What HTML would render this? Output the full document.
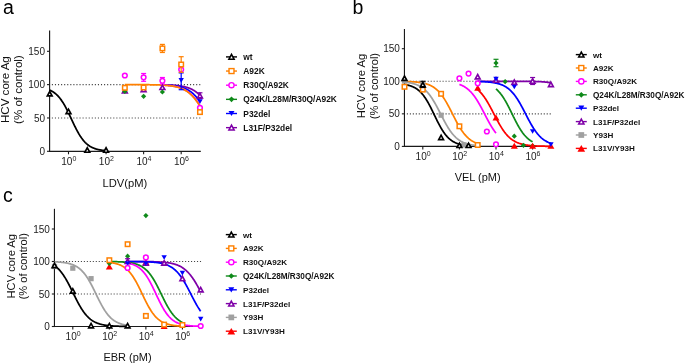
<!DOCTYPE html>
<html><head><meta charset="utf-8"><style>html,body{margin:0;padding:0;background:#fff;width:685px;height:364px;overflow:hidden} svg text{font-family:"Liberation Sans", sans-serif} svg{will-change:transform}</style></head>
<body><svg width="685" height="364" viewBox="0 0 685 364" style="display:block"><text x="3" y="14" font-size="19.5" fill="#000">a</text>
<text transform="translate(9.00,89.60) rotate(-90)" font-size="11.55" text-anchor="middle" fill="#111">HCV core Ag</text>
<text transform="translate(22.40,89.60) rotate(-90)" font-size="11.55" text-anchor="middle" fill="#111">(% of control)</text>
<line x1="51.85" y1="84.63" x2="200.40" y2="84.63" stroke="#444" stroke-width="1.15" stroke-dasharray="1.1 1.970"/>
<line x1="51.85" y1="117.97" x2="200.40" y2="117.97" stroke="#444" stroke-width="1.15" stroke-dasharray="1.1 1.970"/>
<line x1="49.60" y1="30.60" x2="49.60" y2="151.85" stroke="#1a1a1a" stroke-width="1.15"/>
<line x1="49.05" y1="151.30" x2="200.80" y2="151.30" stroke="#1a1a1a" stroke-width="1.15"/>
<line x1="47.00" y1="151.30" x2="49.60" y2="151.30" stroke="#1a1a1a" stroke-width="1.1"/>
<text x="45.00" y="154.90" font-size="10" text-anchor="end" fill="#222">0</text>
<line x1="47.00" y1="117.97" x2="49.60" y2="117.97" stroke="#1a1a1a" stroke-width="1.1"/>
<text x="45.00" y="121.56" font-size="10" text-anchor="end" fill="#222">50</text>
<line x1="47.00" y1="84.63" x2="49.60" y2="84.63" stroke="#1a1a1a" stroke-width="1.1"/>
<text x="45.00" y="88.23" font-size="10" text-anchor="end" fill="#222">100</text>
<line x1="47.00" y1="51.30" x2="49.60" y2="51.30" stroke="#1a1a1a" stroke-width="1.1"/>
<text x="45.00" y="54.90" font-size="10" text-anchor="end" fill="#222">150</text>
<line x1="68.50" y1="151.30" x2="68.50" y2="154.30" stroke="#1a1a1a" stroke-width="1.1"/>
<text x="61.30" y="164.90" font-size="10" fill="#222">10<tspan font-size="7" dy="-4">0</tspan></text>
<line x1="106.06" y1="151.30" x2="106.06" y2="154.30" stroke="#1a1a1a" stroke-width="1.1"/>
<text x="98.86" y="164.90" font-size="10" fill="#222">10<tspan font-size="7" dy="-4">2</tspan></text>
<line x1="143.62" y1="151.30" x2="143.62" y2="154.30" stroke="#1a1a1a" stroke-width="1.1"/>
<text x="136.42" y="164.90" font-size="10" fill="#222">10<tspan font-size="7" dy="-4">4</tspan></text>
<line x1="181.18" y1="151.30" x2="181.18" y2="154.30" stroke="#1a1a1a" stroke-width="1.1"/>
<text x="173.98" y="164.90" font-size="10" fill="#222">10<tspan font-size="7" dy="-4">6</tspan></text>
<text x="124.95" y="187.2" font-size="11.2" text-anchor="middle" fill="#111">LDV(pM)</text>
<polyline points="162.40,84.80 162.63,84.80 162.87,84.81 163.10,84.81 163.34,84.82 163.57,84.82 163.81,84.83 164.04,84.83 164.28,84.84 164.51,84.85 164.75,84.85 164.98,84.86 165.22,84.86 165.45,84.87 165.69,84.88 165.92,84.88 166.16,84.89 166.39,84.90 166.63,84.90 166.86,84.91 167.09,84.92 167.33,84.93 167.56,84.94 167.80,84.94 168.03,84.95 168.27,84.96 168.50,84.97 168.74,84.98 168.97,84.99 169.21,85.00 169.44,85.01 169.68,85.02 169.91,85.03 170.15,85.04 170.38,85.05 170.62,85.06 170.85,85.08 171.09,85.09 171.32,85.10 171.56,85.11 171.79,85.13 172.02,85.14 172.26,85.15 172.49,85.17 172.73,85.18 172.96,85.20 173.20,85.21 173.43,85.23 173.67,85.25 173.90,85.26 174.14,85.28 174.37,85.30 174.61,85.32 174.84,85.33 175.08,85.35 175.31,85.37 175.55,85.39 175.78,85.41 176.02,85.43 176.25,85.46 176.49,85.48 176.72,85.50 176.95,85.53 177.19,85.55 177.42,85.57 177.66,85.60 177.89,85.63 178.13,85.65 178.36,85.68 178.60,85.71 178.83,85.74 179.07,85.77 179.30,85.80 179.54,85.83 179.77,85.86 180.01,85.90 180.24,85.93 180.48,85.97 180.71,86.00 180.95,86.04 181.18,86.08 181.41,86.11 181.65,86.15 181.88,86.19 182.12,86.24 182.35,86.28 182.59,86.32 182.82,86.37 183.06,86.42 183.29,86.46 183.53,86.51 183.76,86.56 184.00,86.61 184.23,86.67 184.47,86.72 184.70,86.78 184.94,86.83 185.17,86.89 185.41,86.95 185.64,87.01 185.88,87.08 186.11,87.14 186.34,87.21 186.58,87.27 186.81,87.34 187.05,87.41 187.28,87.49 187.52,87.56 187.75,87.64 187.99,87.72 188.22,87.80 188.46,87.88 188.69,87.97 188.93,88.05 189.16,88.14 189.40,88.23 189.63,88.33 189.87,88.42 190.10,88.52 190.34,88.62 190.57,88.72 190.80,88.83 191.04,88.94 191.27,89.05 191.51,89.16 191.74,89.27 191.98,89.39 192.21,89.51 192.45,89.64 192.68,89.76 192.92,89.89 193.15,90.03 193.39,90.16 193.62,90.30 193.86,90.44 194.09,90.59 194.33,90.74 194.56,90.89 194.80,91.04 195.03,91.20 195.27,91.36 195.50,91.53 195.73,91.70 195.97,91.87 196.20,92.05 196.44,92.23 196.67,92.41 196.91,92.60 197.14,92.79 197.38,92.99 197.61,93.19 197.85,93.39 198.08,93.60 198.32,93.81 198.55,94.03 198.79,94.25 199.02,94.47 199.26,94.70 199.49,94.94 199.73,95.17 199.96,95.42" fill="none" stroke="#7f00a8" stroke-width="1.75" stroke-linejoin="round"/>
<polyline points="162.40,84.94 162.63,84.95 162.87,84.96 163.10,84.97 163.34,84.98 163.57,84.99 163.81,85.00 164.04,85.01 164.28,85.02 164.51,85.03 164.75,85.04 164.98,85.05 165.22,85.06 165.45,85.07 165.69,85.09 165.92,85.10 166.16,85.11 166.39,85.12 166.63,85.14 166.86,85.15 167.09,85.16 167.33,85.18 167.56,85.19 167.80,85.21 168.03,85.22 168.27,85.24 168.50,85.26 168.74,85.27 168.97,85.29 169.21,85.31 169.44,85.33 169.68,85.35 169.91,85.36 170.15,85.38 170.38,85.40 170.62,85.43 170.85,85.45 171.09,85.47 171.32,85.49 171.56,85.51 171.79,85.54 172.02,85.56 172.26,85.59 172.49,85.61 172.73,85.64 172.96,85.67 173.20,85.69 173.43,85.72 173.67,85.75 173.90,85.78 174.14,85.81 174.37,85.84 174.61,85.88 174.84,85.91 175.08,85.94 175.31,85.98 175.55,86.01 175.78,86.05 176.02,86.09 176.25,86.13 176.49,86.17 176.72,86.21 176.95,86.25 177.19,86.29 177.42,86.33 177.66,86.38 177.89,86.43 178.13,86.47 178.36,86.52 178.60,86.57 178.83,86.62 179.07,86.68 179.30,86.73 179.54,86.78 179.77,86.84 180.01,86.90 180.24,86.96 180.48,87.02 180.71,87.08 180.95,87.15 181.18,87.21 181.41,87.28 181.65,87.35 181.88,87.42 182.12,87.49 182.35,87.56 182.59,87.64 182.82,87.72 183.06,87.80 183.29,87.88 183.53,87.96 183.76,88.05 184.00,88.14 184.23,88.23 184.47,88.32 184.70,88.41 184.94,88.51 185.17,88.61 185.41,88.71 185.64,88.81 185.88,88.92 186.11,89.03 186.34,89.14 186.58,89.25 186.81,89.37 187.05,89.49 187.28,89.61 187.52,89.74 187.75,89.86 187.99,90.00 188.22,90.13 188.46,90.27 188.69,90.41 188.93,90.55 189.16,90.69 189.40,90.84 189.63,91.00 189.87,91.15 190.10,91.31 190.34,91.47 190.57,91.64 190.80,91.81 191.04,91.98 191.27,92.16 191.51,92.34 191.74,92.52 191.98,92.71 192.21,92.90 192.45,93.10 192.68,93.30 192.92,93.50 193.15,93.71 193.39,93.92 193.62,94.14 193.86,94.36 194.09,94.59 194.33,94.81 194.56,95.05 194.80,95.29 195.03,95.53 195.27,95.77 195.50,96.02 195.73,96.28 195.97,96.54 196.20,96.80 196.44,97.07 196.67,97.34 196.91,97.62 197.14,97.90 197.38,98.19 197.61,98.48 197.85,98.78 198.08,99.08 198.32,99.38 198.55,99.69 198.79,100.01 199.02,100.33 199.26,100.65 199.49,100.98 199.73,101.31 199.96,101.65" fill="none" stroke="#0000ff" stroke-width="1.75" stroke-linejoin="round"/>
<polyline points="162.40,85.09 162.63,85.10 162.87,85.12 163.10,85.13 163.34,85.14 163.57,85.16 163.81,85.17 164.04,85.18 164.28,85.20 164.51,85.21 164.75,85.23 164.98,85.24 165.22,85.26 165.45,85.28 165.69,85.29 165.92,85.31 166.16,85.33 166.39,85.35 166.63,85.37 166.86,85.39 167.09,85.41 167.33,85.43 167.56,85.45 167.80,85.47 168.03,85.49 168.27,85.51 168.50,85.54 168.74,85.56 168.97,85.58 169.21,85.61 169.44,85.63 169.68,85.66 169.91,85.69 170.15,85.72 170.38,85.74 170.62,85.77 170.85,85.80 171.09,85.83 171.32,85.86 171.56,85.90 171.79,85.93 172.02,85.96 172.26,86.00 172.49,86.03 172.73,86.07 172.96,86.11 173.20,86.15 173.43,86.18 173.67,86.22 173.90,86.27 174.14,86.31 174.37,86.35 174.61,86.40 174.84,86.44 175.08,86.49 175.31,86.54 175.55,86.59 175.78,86.64 176.02,86.69 176.25,86.74 176.49,86.79 176.72,86.85 176.95,86.91 177.19,86.97 177.42,87.03 177.66,87.09 177.89,87.15 178.13,87.21 178.36,87.28 178.60,87.35 178.83,87.42 179.07,87.49 179.30,87.56 179.54,87.63 179.77,87.71 180.01,87.79 180.24,87.87 180.48,87.95 180.71,88.03 180.95,88.12 181.18,88.21 181.41,88.29 181.65,88.39 181.88,88.48 182.12,88.58 182.35,88.68 182.59,88.78 182.82,88.88 183.06,88.98 183.29,89.09 183.53,89.20 183.76,89.32 184.00,89.43 184.23,89.55 184.47,89.67 184.70,89.79 184.94,89.92 185.17,90.05 185.41,90.18 185.64,90.31 185.88,90.45 186.11,90.59 186.34,90.74 186.58,90.88 186.81,91.03 187.05,91.19 187.28,91.34 187.52,91.50 187.75,91.67 187.99,91.83 188.22,92.00 188.46,92.18 188.69,92.35 188.93,92.53 189.16,92.72 189.40,92.91 189.63,93.10 189.87,93.29 190.10,93.49 190.34,93.70 190.57,93.90 190.80,94.11 191.04,94.33 191.27,94.55 191.51,94.77 191.74,95.00 191.98,95.23 192.21,95.47 192.45,95.70 192.68,95.95 192.92,96.20 193.15,96.45 193.39,96.71 193.62,96.97 193.86,97.23 194.09,97.50 194.33,97.78 194.56,98.06 194.80,98.34 195.03,98.63 195.27,98.92 195.50,99.21 195.73,99.52 195.97,99.82 196.20,100.13 196.44,100.44 196.67,100.76 196.91,101.08 197.14,101.41 197.38,101.74 197.61,102.08 197.85,102.42 198.08,102.76 198.32,103.11 198.55,103.46 198.79,103.82 199.02,104.18 199.26,104.54 199.49,104.91 199.73,105.28 199.96,105.65" fill="none" stroke="#ff00ff" stroke-width="1.75" stroke-linejoin="round"/>
<polyline points="124.84,84.64 125.31,84.64 125.78,84.64 126.25,84.64 126.72,84.64 127.19,84.64 127.66,84.64 128.13,84.64 128.60,84.64 129.07,84.64 129.53,84.64 130.00,84.64 130.47,84.64 130.94,84.64 131.41,84.65 131.88,84.65 132.35,84.65 132.82,84.65 133.29,84.65 133.76,84.65 134.23,84.65 134.70,84.65 135.17,84.65 135.64,84.65 136.11,84.66 136.58,84.66 137.05,84.66 137.52,84.66 137.99,84.66 138.46,84.66 138.93,84.67 139.39,84.67 139.86,84.67 140.33,84.67 140.80,84.67 141.27,84.68 141.74,84.68 142.21,84.68 142.68,84.68 143.15,84.69 143.62,84.69 144.09,84.69 144.56,84.70 145.03,84.70 145.50,84.70 145.97,84.71 146.44,84.71 146.91,84.72 147.38,84.72 147.85,84.73 148.31,84.73 148.78,84.74 149.25,84.74 149.72,84.75 150.19,84.75 150.66,84.76 151.13,84.77 151.60,84.77 152.07,84.78 152.54,84.79 153.01,84.80 153.48,84.81 153.95,84.82 154.42,84.83 154.89,84.84 155.36,84.85 155.83,84.86 156.30,84.87 156.77,84.89 157.24,84.90 157.71,84.92 158.17,84.93 158.64,84.95 159.11,84.96 159.58,84.98 160.05,85.00 160.52,85.02 160.99,85.04 161.46,85.06 161.93,85.09 162.40,85.11 162.87,85.14 163.34,85.16 163.81,85.19 164.28,85.22 164.75,85.25 165.22,85.29 165.69,85.32 166.16,85.36 166.63,85.40 167.09,85.44 167.56,85.48 168.03,85.53 168.50,85.57 168.97,85.62 169.44,85.68 169.91,85.73 170.38,85.79 170.85,85.85 171.32,85.92 171.79,85.98 172.26,86.05 172.73,86.13 173.20,86.21 173.67,86.29 174.14,86.38 174.61,86.47 175.08,86.57 175.55,86.67 176.02,86.77 176.49,86.88 176.95,87.00 177.42,87.12 177.89,87.25 178.36,87.39 178.83,87.53 179.30,87.68 179.77,87.83 180.24,88.00 180.71,88.17 181.18,88.35 181.65,88.54 182.12,88.74 182.59,88.94 183.06,89.16 183.53,89.38 184.00,89.62 184.47,89.87 184.94,90.13 185.41,90.40 185.88,90.68 186.34,90.97 186.81,91.28 187.28,91.60 187.75,91.93 188.22,92.28 188.69,92.64 189.16,93.02 189.63,93.41 190.10,93.82 190.57,94.24 191.04,94.68 191.51,95.14 191.98,95.61 192.45,96.10 192.92,96.60 193.39,97.13 193.86,97.67 194.33,98.23 194.80,98.80 195.27,99.39 195.73,100.01 196.20,100.63 196.67,101.28 197.14,101.94 197.61,102.62 198.08,103.32 198.55,104.03 199.02,104.76 199.49,105.50 199.96,106.26" fill="none" stroke="#ff8000" stroke-width="1.75" stroke-linejoin="round"/>
<polyline points="49.72,90.16 50.07,90.31 50.42,90.47 50.78,90.64 51.13,90.82 51.48,91.00 51.83,91.19 52.18,91.38 52.54,91.59 52.89,91.80 53.24,92.03 53.59,92.26 53.95,92.50 54.30,92.75 54.65,93.01 55.00,93.28 55.35,93.56 55.71,93.85 56.06,94.15 56.41,94.46 56.76,94.79 57.11,95.12 57.47,95.47 57.82,95.83 58.17,96.20 58.52,96.58 58.88,96.98 59.23,97.39 59.58,97.81 59.93,98.25 60.28,98.70 60.64,99.16 60.99,99.64 61.34,100.13 61.69,100.64 62.04,101.15 62.40,101.69 62.75,102.23 63.10,102.79 63.45,103.36 63.80,103.95 64.16,104.55 64.51,105.16 64.86,105.78 65.21,106.41 65.57,107.06 65.92,107.72 66.27,108.39 66.62,109.07 66.97,109.76 67.33,110.46 67.68,111.17 68.03,111.88 68.38,112.61 68.73,113.34 69.09,114.07 69.44,114.82 69.79,115.56 70.14,116.31 70.50,117.07 70.85,117.82 71.20,118.58 71.55,119.33 71.90,120.09 72.26,120.85 72.61,121.60 72.96,122.35 73.31,123.10 73.66,123.84 74.02,124.58 74.37,125.31 74.72,126.04 75.07,126.75 75.43,127.46 75.78,128.16 76.13,128.86 76.48,129.54 76.83,130.21 77.19,130.87 77.54,131.52 77.89,132.16 78.24,132.78 78.59,133.40 78.95,134.00 79.30,134.59 79.65,135.16 80.00,135.72 80.35,136.27 80.71,136.80 81.06,137.32 81.41,137.83 81.76,138.32 82.12,138.80 82.47,139.27 82.82,139.72 83.17,140.16 83.52,140.59 83.88,141.00 84.23,141.40 84.58,141.79 84.93,142.16 85.28,142.52 85.64,142.87 85.99,143.21 86.34,143.54 86.69,143.85 87.05,144.16 87.40,144.45 87.75,144.73 88.10,145.00 88.45,145.26 88.81,145.52 89.16,145.76 89.51,145.99 89.86,146.22 90.21,146.43 90.57,146.64 90.92,146.84 91.27,147.03 91.62,147.21 91.97,147.39 92.33,147.56 92.68,147.72 93.03,147.87 93.38,148.02 93.74,148.17 94.09,148.30 94.44,148.43 94.79,148.56 95.14,148.68 95.50,148.80 95.85,148.91 96.20,149.01 96.55,149.11 96.90,149.21 97.26,149.30 97.61,149.39 97.96,149.48 98.31,149.56 98.67,149.64 99.02,149.71 99.37,149.78 99.72,149.85 100.07,149.92 100.43,149.98 100.78,150.04 101.13,150.09 101.48,150.15 101.83,150.20 102.19,150.25 102.54,150.30 102.89,150.34 103.24,150.39 103.60,150.43 103.95,150.47 104.30,150.50 104.65,150.54 105.00,150.57 105.36,150.61 105.71,150.64 106.06,150.67" fill="none" stroke="#000000" stroke-width="1.75" stroke-linejoin="round"/>
<circle cx="124.84" cy="75.50" r="2.35" fill="#fff" stroke="#ff00ff" stroke-width="1.5"/>
<line x1="143.62" y1="73.50" x2="143.62" y2="81.30" stroke="#ff00ff" stroke-width="1.2"/>
<line x1="141.12" y1="73.50" x2="146.12" y2="73.50" stroke="#ff00ff" stroke-width="1.2"/>
<line x1="141.12" y1="81.30" x2="146.12" y2="81.30" stroke="#ff00ff" stroke-width="1.2"/>
<circle cx="143.62" cy="77.30" r="2.35" fill="#fff" stroke="#ff00ff" stroke-width="1.5"/>
<line x1="162.40" y1="77.50" x2="162.40" y2="84.00" stroke="#ff00ff" stroke-width="1.2"/>
<line x1="159.90" y1="77.50" x2="164.90" y2="77.50" stroke="#ff00ff" stroke-width="1.2"/>
<line x1="159.90" y1="84.00" x2="164.90" y2="84.00" stroke="#ff00ff" stroke-width="1.2"/>
<circle cx="162.40" cy="80.80" r="2.35" fill="#fff" stroke="#ff00ff" stroke-width="1.5"/>
<circle cx="181.18" cy="69.60" r="2.35" fill="#fff" stroke="#ff00ff" stroke-width="1.5"/>
<circle cx="199.96" cy="107.80" r="2.35" fill="#fff" stroke="#ff00ff" stroke-width="1.5"/>
<path d="M47.32,95.90 L49.72,91.50 L52.12,95.90Z" fill="#fff" stroke="#000000" stroke-width="1.6500000000000001" stroke-linejoin="miter"/>
<path d="M66.10,113.60 L68.50,109.20 L70.90,113.60Z" fill="#fff" stroke="#000000" stroke-width="1.6500000000000001" stroke-linejoin="miter"/>
<path d="M84.88,152.20 L87.28,147.80 L89.68,152.20Z" fill="#fff" stroke="#000000" stroke-width="1.6500000000000001" stroke-linejoin="miter"/>
<path d="M103.66,152.20 L106.06,147.80 L108.46,152.20Z" fill="#fff" stroke="#000000" stroke-width="1.6500000000000001" stroke-linejoin="miter"/>
<path d="M122.44,92.90 L124.84,88.50 L127.24,92.90Z" fill="#fff" stroke="#7f00a8" stroke-width="1.6500000000000001" stroke-linejoin="miter"/>
<path d="M141.22,91.70 L143.62,87.30 L146.02,91.70Z" fill="#fff" stroke="#7f00a8" stroke-width="1.6500000000000001" stroke-linejoin="miter"/>
<path d="M160.00,89.50 L162.40,85.10 L164.80,89.50Z" fill="#fff" stroke="#7f00a8" stroke-width="1.6500000000000001" stroke-linejoin="miter"/>
<line x1="199.96" y1="92.80" x2="199.96" y2="98.50" stroke="#7f00a8" stroke-width="1.2"/>
<line x1="197.46" y1="92.80" x2="202.46" y2="92.80" stroke="#7f00a8" stroke-width="1.2"/>
<line x1="197.46" y1="98.50" x2="202.46" y2="98.50" stroke="#7f00a8" stroke-width="1.2"/>
<path d="M197.56,97.80 L199.96,93.40 L202.36,97.80Z" fill="#fff" stroke="#7f00a8" stroke-width="1.6500000000000001" stroke-linejoin="miter"/>
<path d="M124.84,88.90 L127.44,91.50 L124.84,94.10 L122.24,91.50Z" fill="#0f8a1a"/>
<path d="M143.62,93.70 L146.22,96.30 L143.62,98.90 L141.02,96.30Z" fill="#0f8a1a"/>
<path d="M162.40,89.40 L165.00,92.00 L162.40,94.60 L159.80,92.00Z" fill="#0f8a1a"/>
<line x1="181.18" y1="72.90" x2="181.18" y2="89.70" stroke="#0000ff" stroke-width="1.2"/>
<line x1="178.68" y1="72.90" x2="183.68" y2="72.90" stroke="#0000ff" stroke-width="1.2"/>
<line x1="178.68" y1="89.70" x2="183.68" y2="89.70" stroke="#0000ff" stroke-width="1.2"/>
<path d="M178.48,78.05 L183.88,78.05 L181.18,82.75Z" fill="#0000ff"/>
<path d="M197.26,99.25 L202.66,99.25 L199.96,103.95Z" fill="#0000ff"/>
<rect x="122.59" y="85.55" width="4.50" height="4.50" fill="#fff" stroke="#ff8000" stroke-width="1.5"/>
<rect x="141.37" y="85.25" width="4.50" height="4.50" fill="#fff" stroke="#ff8000" stroke-width="1.5"/>
<line x1="162.40" y1="44.40" x2="162.40" y2="52.50" stroke="#ff8000" stroke-width="1.2"/>
<line x1="159.90" y1="44.40" x2="164.90" y2="44.40" stroke="#ff8000" stroke-width="1.2"/>
<line x1="159.90" y1="52.50" x2="164.90" y2="52.50" stroke="#ff8000" stroke-width="1.2"/>
<rect x="160.15" y="46.15" width="4.50" height="4.50" fill="#fff" stroke="#ff8000" stroke-width="1.5"/>
<line x1="181.18" y1="56.70" x2="181.18" y2="72.30" stroke="#ff8000" stroke-width="1.2"/>
<line x1="178.68" y1="56.70" x2="183.68" y2="56.70" stroke="#ff8000" stroke-width="1.2"/>
<line x1="178.68" y1="72.30" x2="183.68" y2="72.30" stroke="#ff8000" stroke-width="1.2"/>
<rect x="178.93" y="62.25" width="4.50" height="4.50" fill="#fff" stroke="#ff8000" stroke-width="1.5"/>
<rect x="197.71" y="109.85" width="4.50" height="4.50" fill="#fff" stroke="#ff8000" stroke-width="1.5"/>
<line x1="226.00" y1="56.90" x2="237.00" y2="56.90" stroke="#000000" stroke-width="1.4"/>
<path d="M228.86,59.32 L231.50,54.48 L234.14,59.32Z" fill="#fff" stroke="#000000" stroke-width="1.54" stroke-linejoin="miter"/>
<text x="243.30" y="59.90" font-size="8.4" font-weight="bold" fill="#111">wt</text>
<line x1="226.00" y1="71.05" x2="237.00" y2="71.05" stroke="#ff8000" stroke-width="1.4"/>
<rect x="229.03" y="68.58" width="4.95" height="4.95" fill="#fff" stroke="#ff8000" stroke-width="1.4"/>
<text x="243.30" y="74.05" font-size="8.4" font-weight="bold" fill="#111">A92K</text>
<line x1="226.00" y1="85.20" x2="237.00" y2="85.20" stroke="#ff00ff" stroke-width="1.4"/>
<circle cx="231.50" cy="85.20" r="2.59" fill="#fff" stroke="#ff00ff" stroke-width="1.4"/>
<text x="243.30" y="88.20" font-size="8.4" font-weight="bold" fill="#111">R30Q/A92K</text>
<line x1="226.00" y1="99.35" x2="237.00" y2="99.35" stroke="#0f8a1a" stroke-width="1.4"/>
<path d="M231.50,96.49 L234.36,99.35 L231.50,102.21 L228.64,99.35Z" fill="#0f8a1a"/>
<text x="243.30" y="102.35" font-size="8.4" font-weight="bold" fill="#111">Q24K/L28M/R30Q/A92K</text>
<line x1="226.00" y1="113.50" x2="237.00" y2="113.50" stroke="#0000ff" stroke-width="1.4"/>
<path d="M228.53,110.92 L234.47,110.92 L231.50,116.08Z" fill="#0000ff"/>
<text x="243.30" y="116.50" font-size="8.4" font-weight="bold" fill="#111">P32del</text>
<line x1="226.00" y1="127.65" x2="237.00" y2="127.65" stroke="#7f00a8" stroke-width="1.4"/>
<path d="M228.86,130.07 L231.50,125.23 L234.14,130.07Z" fill="#fff" stroke="#7f00a8" stroke-width="1.54" stroke-linejoin="miter"/>
<text x="243.30" y="130.65" font-size="8.4" font-weight="bold" fill="#111">L31F/P32del</text>
<text x="352.6" y="13.5" font-size="19.5" fill="#000">b</text>
<text transform="translate(364.90,86.05) rotate(-90)" font-size="11.15" text-anchor="middle" fill="#111">HCV core Ag</text>
<text transform="translate(377.50,86.05) rotate(-90)" font-size="11.15" text-anchor="middle" fill="#111">(% of control)</text>
<line x1="406.85" y1="81.27" x2="551.50" y2="81.27" stroke="#444" stroke-width="1.15" stroke-dasharray="1.1 1.875"/>
<line x1="406.85" y1="113.84" x2="551.50" y2="113.84" stroke="#444" stroke-width="1.15" stroke-dasharray="1.1 1.875"/>
<line x1="404.45" y1="29.00" x2="404.45" y2="146.95" stroke="#1a1a1a" stroke-width="1.15"/>
<line x1="403.90" y1="146.40" x2="551.50" y2="146.40" stroke="#1a1a1a" stroke-width="1.15"/>
<line x1="401.85" y1="146.40" x2="404.45" y2="146.40" stroke="#1a1a1a" stroke-width="1.1"/>
<text x="399.85" y="150.00" font-size="10" text-anchor="end" fill="#222">0</text>
<line x1="401.85" y1="113.84" x2="404.45" y2="113.84" stroke="#1a1a1a" stroke-width="1.1"/>
<text x="399.85" y="117.44" font-size="10" text-anchor="end" fill="#222">50</text>
<line x1="401.85" y1="81.27" x2="404.45" y2="81.27" stroke="#1a1a1a" stroke-width="1.1"/>
<text x="399.85" y="84.87" font-size="10" text-anchor="end" fill="#222">100</text>
<line x1="401.85" y1="48.71" x2="404.45" y2="48.71" stroke="#1a1a1a" stroke-width="1.1"/>
<text x="399.85" y="52.31" font-size="10" text-anchor="end" fill="#222">150</text>
<line x1="422.80" y1="146.40" x2="422.80" y2="149.40" stroke="#1a1a1a" stroke-width="1.1"/>
<text x="415.60" y="160.00" font-size="10" fill="#222">10<tspan font-size="7" dy="-4">0</tspan></text>
<line x1="459.40" y1="146.40" x2="459.40" y2="149.40" stroke="#1a1a1a" stroke-width="1.1"/>
<text x="452.20" y="160.00" font-size="10" fill="#222">10<tspan font-size="7" dy="-4">2</tspan></text>
<line x1="496.00" y1="146.40" x2="496.00" y2="149.40" stroke="#1a1a1a" stroke-width="1.1"/>
<text x="488.80" y="160.00" font-size="10" fill="#222">10<tspan font-size="7" dy="-4">4</tspan></text>
<line x1="532.60" y1="146.40" x2="532.60" y2="149.40" stroke="#1a1a1a" stroke-width="1.1"/>
<text x="525.40" y="160.00" font-size="10" fill="#222">10<tspan font-size="7" dy="-4">6</tspan></text>
<text x="477.65" y="181.1" font-size="11" text-anchor="middle" fill="#111">VEL (pM)</text>
<polyline points="477.70,81.27 478.16,81.27 478.62,81.27 479.07,81.27 479.53,81.27 479.99,81.27 480.44,81.27 480.90,81.27 481.36,81.27 481.82,81.27 482.28,81.27 482.73,81.27 483.19,81.27 483.65,81.27 484.11,81.27 484.56,81.27 485.02,81.27 485.48,81.27 485.94,81.27 486.39,81.27 486.85,81.27 487.31,81.27 487.76,81.27 488.22,81.27 488.68,81.27 489.14,81.27 489.60,81.27 490.05,81.27 490.51,81.27 490.97,81.27 491.43,81.27 491.88,81.27 492.34,81.27 492.80,81.27 493.25,81.27 493.71,81.27 494.17,81.27 494.63,81.27 495.09,81.27 495.54,81.27 496.00,81.27 496.46,81.27 496.92,81.27 497.37,81.27 497.83,81.27 498.29,81.27 498.75,81.27 499.20,81.27 499.66,81.27 500.12,81.27 500.58,81.27 501.03,81.27 501.49,81.27 501.95,81.27 502.40,81.27 502.86,81.27 503.32,81.27 503.78,81.27 504.24,81.27 504.69,81.27 505.15,81.28 505.61,81.28 506.06,81.28 506.52,81.28 506.98,81.28 507.44,81.28 507.90,81.28 508.35,81.28 508.81,81.28 509.27,81.28 509.73,81.28 510.18,81.28 510.64,81.28 511.10,81.28 511.56,81.28 512.01,81.28 512.47,81.28 512.93,81.28 513.38,81.28 513.84,81.29 514.30,81.29 514.76,81.29 515.22,81.29 515.67,81.29 516.13,81.29 516.59,81.29 517.05,81.29 517.50,81.29 517.96,81.30 518.42,81.30 518.88,81.30 519.33,81.30 519.79,81.30 520.25,81.30 520.71,81.31 521.16,81.31 521.62,81.31 522.08,81.31 522.54,81.32 522.99,81.32 523.45,81.32 523.91,81.32 524.37,81.33 524.82,81.33 525.28,81.34 525.74,81.34 526.20,81.34 526.65,81.35 527.11,81.35 527.57,81.36 528.02,81.36 528.48,81.37 528.94,81.37 529.40,81.38 529.86,81.39 530.31,81.39 530.77,81.40 531.23,81.41 531.69,81.42 532.14,81.42 532.60,81.43 533.06,81.44 533.51,81.45 533.97,81.46 534.43,81.48 534.89,81.49 535.35,81.50 535.80,81.51 536.26,81.53 536.72,81.54 537.17,81.56 537.63,81.58 538.09,81.59 538.55,81.61 539.00,81.63 539.46,81.66 539.92,81.68 540.38,81.70 540.84,81.73 541.29,81.75 541.75,81.78 542.21,81.81 542.66,81.85 543.12,81.88 543.58,81.91 544.04,81.95 544.50,81.99 544.95,82.03 545.41,82.08 545.87,82.13 546.33,82.18 546.78,82.23 547.24,82.29 547.70,82.35 548.15,82.41 548.61,82.47 549.07,82.54 549.53,82.62 549.99,82.70 550.44,82.78 550.90,82.87" fill="none" stroke="#7f00a8" stroke-width="1.75" stroke-linejoin="round"/>
<polyline points="477.70,81.48 478.16,81.49 478.62,81.51 479.07,81.52 479.53,81.53 479.99,81.55 480.44,81.57 480.90,81.58 481.36,81.60 481.82,81.62 482.28,81.64 482.73,81.66 483.19,81.68 483.65,81.70 484.11,81.73 484.56,81.75 485.02,81.78 485.48,81.81 485.94,81.84 486.39,81.87 486.85,81.90 487.31,81.94 487.76,81.97 488.22,82.01 488.68,82.05 489.14,82.10 489.60,82.14 490.05,82.19 490.51,82.24 490.97,82.30 491.43,82.35 491.88,82.41 492.34,82.48 492.80,82.54 493.25,82.61 493.71,82.69 494.17,82.76 494.63,82.85 495.09,82.93 495.54,83.02 496.00,83.12 496.46,83.22 496.92,83.33 497.37,83.44 497.83,83.56 498.29,83.68 498.75,83.81 499.20,83.95 499.66,84.09 500.12,84.24 500.58,84.40 501.03,84.57 501.49,84.74 501.95,84.93 502.40,85.12 502.86,85.32 503.32,85.54 503.78,85.76 504.24,85.99 504.69,86.24 505.15,86.50 505.61,86.77 506.06,87.05 506.52,87.34 506.98,87.65 507.44,87.97 507.90,88.31 508.35,88.66 508.81,89.02 509.27,89.40 509.73,89.80 510.18,90.22 510.64,90.65 511.10,91.09 511.56,91.56 512.01,92.04 512.47,92.54 512.93,93.06 513.38,93.60 513.84,94.15 514.30,94.73 514.76,95.32 515.22,95.93 515.67,96.56 516.13,97.21 516.59,97.88 517.05,98.57 517.50,99.27 517.96,99.99 518.42,100.73 518.88,101.48 519.33,102.25 519.79,103.04 520.25,103.84 520.71,104.65 521.16,105.48 521.62,106.32 522.08,107.16 522.54,108.02 522.99,108.89 523.45,109.76 523.91,110.64 524.37,111.52 524.82,112.41 525.28,113.30 525.74,114.19 526.20,115.08 526.65,115.97 527.11,116.85 527.57,117.73 528.02,118.61 528.48,119.48 528.94,120.34 529.40,121.19 529.86,122.03 530.31,122.85 530.77,123.67 531.23,124.47 531.69,125.26 532.14,126.03 532.60,126.79 533.06,127.53 533.51,128.26 533.97,128.96 534.43,129.65 534.89,130.32 535.35,130.98 535.80,131.61 536.26,132.23 536.72,132.82 537.17,133.40 537.63,133.96 538.09,134.50 538.55,135.03 539.00,135.53 539.46,136.02 539.92,136.48 540.38,136.94 540.84,137.37 541.29,137.79 541.75,138.19 542.21,138.57 542.66,138.94 543.12,139.29 543.58,139.63 544.04,139.96 544.50,140.27 544.95,140.57 545.41,140.85 545.87,141.12 546.33,141.38 546.78,141.63 547.24,141.86 547.70,142.09 548.15,142.30 548.61,142.51 549.07,142.70 549.53,142.89 549.99,143.07 550.44,143.24 550.90,143.40" fill="none" stroke="#0000ff" stroke-width="1.75" stroke-linejoin="round"/>
<polyline points="496.00,88.89 496.23,89.08 496.46,89.28 496.69,89.49 496.92,89.70 497.14,89.91 497.37,90.13 497.60,90.35 497.83,90.58 498.06,90.81 498.29,91.05 498.52,91.29 498.75,91.53 498.97,91.79 499.20,92.04 499.43,92.30 499.66,92.57 499.89,92.84 500.12,93.12 500.35,93.40 500.58,93.68 500.80,93.98 501.03,94.27 501.26,94.58 501.49,94.88 501.72,95.20 501.95,95.51 502.18,95.84 502.40,96.16 502.63,96.50 502.86,96.84 503.09,97.18 503.32,97.53 503.55,97.88 503.78,98.24 504.01,98.60 504.24,98.97 504.46,99.35 504.69,99.72 504.92,100.11 505.15,100.49 505.38,100.89 505.61,101.28 505.84,101.69 506.06,102.09 506.29,102.50 506.52,102.91 506.75,103.33 506.98,103.75 507.21,104.18 507.44,104.61 507.67,105.04 507.90,105.48 508.12,105.92 508.35,106.36 508.58,106.81 508.81,107.25 509.04,107.70 509.27,108.16 509.50,108.61 509.73,109.07 509.95,109.53 510.18,109.99 510.41,110.45 510.64,110.92 510.87,111.38 511.10,111.85 511.33,112.32 511.56,112.79 511.78,113.25 512.01,113.72 512.24,114.19 512.47,114.66 512.70,115.13 512.93,115.60 513.16,116.06 513.38,116.53 513.61,116.99 513.84,117.46 514.07,117.92 514.30,118.38 514.53,118.84 514.76,119.29 514.99,119.75 515.22,120.20 515.44,120.65 515.67,121.10 515.90,121.54 516.13,121.98 516.36,122.42 516.59,122.85 516.82,123.28 517.05,123.71 517.27,124.14 517.50,124.56 517.73,124.97 517.96,125.38 518.19,125.79 518.42,126.19 518.65,126.59 518.88,126.99 519.10,127.38 519.33,127.76 519.56,128.14 519.79,128.52 520.02,128.89 520.25,129.26 520.48,129.62 520.71,129.97 520.93,130.32 521.16,130.67 521.39,131.01 521.62,131.35 521.85,131.68 522.08,132.00 522.31,132.32 522.54,132.64 522.76,132.95 522.99,133.25 523.22,133.55 523.45,133.85 523.68,134.13 523.91,134.42 524.14,134.70 524.37,134.97 524.59,135.24 524.82,135.50 525.05,135.76 525.28,136.02 525.51,136.27 525.74,136.51 525.97,136.75 526.20,136.98 526.42,137.21 526.65,137.44 526.88,137.66 527.11,137.87 527.34,138.08 527.57,138.29 527.80,138.49 528.02,138.69 528.25,138.88 528.48,139.07 528.71,139.26 528.94,139.44 529.17,139.62 529.40,139.79 529.63,139.96 529.86,140.12 530.08,140.28 530.31,140.44 530.54,140.60 530.77,140.75 531.00,140.89 531.23,141.04 531.46,141.18 531.69,141.31 531.91,141.45 532.14,141.58 532.37,141.70 532.60,141.83" fill="none" stroke="#0f8a1a" stroke-width="1.75" stroke-linejoin="round"/>
<polyline points="477.70,89.62 478.16,90.02 478.62,90.44 479.07,90.88 479.53,91.33 479.99,91.80 480.44,92.29 480.90,92.79 481.36,93.32 481.82,93.86 482.28,94.42 482.73,95.00 483.19,95.60 483.65,96.21 484.11,96.85 484.56,97.50 485.02,98.17 485.48,98.86 485.94,99.56 486.39,100.29 486.85,101.02 487.31,101.78 487.76,102.55 488.22,103.33 488.68,104.13 489.14,104.94 489.60,105.77 490.05,106.60 490.51,107.45 490.97,108.30 491.43,109.17 491.88,110.03 492.34,110.91 492.80,111.79 493.25,112.67 493.71,113.55 494.17,114.44 494.63,115.32 495.09,116.20 495.54,117.08 496.00,117.95 496.46,118.82 496.92,119.68 497.37,120.53 497.83,121.37 498.29,122.20 498.75,123.02 499.20,123.83 499.66,124.62 500.12,125.40 500.58,126.16 501.03,126.91 501.49,127.65 501.95,128.36 502.40,129.06 502.86,129.74 503.32,130.41 503.78,131.05 504.24,131.68 504.69,132.29 505.15,132.88 505.61,133.45 506.06,134.01 506.52,134.54 506.98,135.06 507.44,135.56 507.90,136.04 508.35,136.51 508.81,136.95 509.27,137.38 509.73,137.80 510.18,138.19 510.64,138.58 511.10,138.94 511.56,139.29 512.01,139.63 512.47,139.95 512.93,140.26 513.38,140.56 513.84,140.84 514.30,141.11 514.76,141.37 515.22,141.61 515.67,141.85 516.13,142.07 516.59,142.29 517.05,142.49 517.50,142.69 517.96,142.87 518.42,143.05 518.88,143.22 519.33,143.38 519.79,143.53 520.25,143.67 520.71,143.81 521.16,143.94 521.62,144.07 522.08,144.19 522.54,144.30 522.99,144.41 523.45,144.51 523.91,144.61 524.37,144.70 524.82,144.79 525.28,144.87 525.74,144.95 526.20,145.03 526.65,145.10 527.11,145.16 527.57,145.23 528.02,145.29 528.48,145.35 528.94,145.40 529.40,145.45 529.86,145.50 530.31,145.55 530.77,145.59 531.23,145.64 531.69,145.68 532.14,145.71 532.60,145.75 533.06,145.78 533.51,145.82 533.97,145.85 534.43,145.88 534.89,145.90 535.35,145.93 535.80,145.95 536.26,145.98 536.72,146.00 537.17,146.02 537.63,146.04 538.09,146.06 538.55,146.08 539.00,146.09 539.46,146.11 539.92,146.13 540.38,146.14 540.84,146.15 541.29,146.17 541.75,146.18 542.21,146.19 542.66,146.20 543.12,146.21 543.58,146.22 544.04,146.23 544.50,146.24 544.95,146.25 545.41,146.26 545.87,146.26 546.33,146.27 546.78,146.28 547.24,146.28 547.70,146.29 548.15,146.30 548.61,146.30 549.07,146.31 549.53,146.31 549.99,146.32 550.44,146.32 550.90,146.33" fill="none" stroke="#ff0000" stroke-width="1.75" stroke-linejoin="round"/>
<polyline points="459.40,84.41 459.63,84.49 459.86,84.57 460.09,84.66 460.31,84.75 460.54,84.84 460.77,84.93 461.00,85.02 461.23,85.12 461.46,85.22 461.69,85.32 461.92,85.43 462.14,85.53 462.37,85.64 462.60,85.76 462.83,85.87 463.06,85.99 463.29,86.11 463.52,86.23 463.75,86.36 463.98,86.49 464.20,86.62 464.43,86.75 464.66,86.89 464.89,87.03 465.12,87.18 465.35,87.32 465.58,87.48 465.81,87.63 466.03,87.79 466.26,87.95 466.49,88.11 466.72,88.28 466.95,88.45 467.18,88.63 467.41,88.81 467.63,88.99 467.86,89.18 468.09,89.37 468.32,89.56 468.55,89.76 468.78,89.96 469.01,90.17 469.24,90.38 469.47,90.60 469.69,90.82 469.92,91.04 470.15,91.27 470.38,91.50 470.61,91.74 470.84,91.98 471.07,92.22 471.30,92.47 471.52,92.73 471.75,92.99 471.98,93.25 472.21,93.52 472.44,93.79 472.67,94.07 472.90,94.35 473.12,94.63 473.35,94.92 473.58,95.22 473.81,95.52 474.04,95.83 474.27,96.13 474.50,96.45 474.73,96.77 474.96,97.09 475.18,97.42 475.41,97.75 475.64,98.09 475.87,98.43 476.10,98.77 476.33,99.12 476.56,99.48 476.79,99.84 477.01,100.20 477.24,100.57 477.47,100.94 477.70,101.31 477.93,101.69 478.16,102.07 478.39,102.46 478.62,102.85 478.84,103.24 479.07,103.64 479.30,104.04 479.53,104.45 479.76,104.85 479.99,105.26 480.22,105.68 480.44,106.09 480.67,106.51 480.90,106.93 481.13,107.36 481.36,107.78 481.59,108.21 481.82,108.64 482.05,109.07 482.28,109.51 482.50,109.94 482.73,110.38 482.96,110.82 483.19,111.26 483.42,111.70 483.65,112.14 483.88,112.58 484.11,113.02 484.33,113.46 484.56,113.91 484.79,114.35 485.02,114.79 485.25,115.23 485.48,115.67 485.71,116.11 485.94,116.55 486.16,116.99 486.39,117.43 486.62,117.87 486.85,118.30 487.08,118.73 487.31,119.17 487.54,119.60 487.76,120.02 487.99,120.45 488.22,120.87 488.45,121.29 488.68,121.71 488.91,122.13 489.14,122.54 489.37,122.95 489.60,123.35 489.82,123.76 490.05,124.16 490.28,124.55 490.51,124.94 490.74,125.33 490.97,125.72 491.20,126.10 491.43,126.48 491.65,126.85 491.88,127.22 492.11,127.59 492.34,127.95 492.57,128.31 492.80,128.66 493.03,129.01 493.25,129.35 493.48,129.69 493.71,130.03 493.94,130.36 494.17,130.68 494.40,131.01 494.63,131.32 494.86,131.63 495.09,131.94 495.31,132.25 495.54,132.54 495.77,132.84 496.00,133.13" fill="none" stroke="#ff00ff" stroke-width="1.75" stroke-linejoin="round"/>
<polyline points="404.50,81.46 404.96,81.47 405.42,81.48 405.87,81.49 406.33,81.51 406.79,81.52 407.25,81.53 407.70,81.55 408.16,81.57 408.62,81.58 409.07,81.60 409.53,81.62 409.99,81.64 410.45,81.66 410.91,81.68 411.36,81.71 411.82,81.73 412.28,81.76 412.74,81.78 413.19,81.81 413.65,81.84 414.11,81.88 414.56,81.91 415.02,81.95 415.48,81.99 415.94,82.03 416.40,82.07 416.85,82.11 417.31,82.16 417.77,82.21 418.23,82.27 418.68,82.32 419.14,82.38 419.60,82.44 420.06,82.51 420.51,82.58 420.97,82.65 421.43,82.73 421.88,82.81 422.34,82.90 422.80,82.99 423.26,83.08 423.72,83.18 424.17,83.29 424.63,83.40 425.09,83.52 425.55,83.64 426.00,83.77 426.46,83.91 426.92,84.06 427.38,84.21 427.83,84.37 428.29,84.54 428.75,84.71 429.21,84.90 429.66,85.09 430.12,85.30 430.58,85.52 431.04,85.74 431.49,85.98 431.95,86.23 432.41,86.49 432.87,86.76 433.32,87.05 433.78,87.35 434.24,87.66 434.69,87.99 435.15,88.34 435.61,88.69 436.07,89.07 436.53,89.46 436.98,89.86 437.44,90.29 437.90,90.73 438.36,91.19 438.81,91.67 439.27,92.16 439.73,92.68 440.19,93.21 440.64,93.76 441.10,94.33 441.56,94.92 442.01,95.53 442.47,96.16 442.93,96.81 443.39,97.48 443.85,98.17 444.30,98.88 444.76,99.60 445.22,100.34 445.68,101.10 446.13,101.88 446.59,102.67 447.05,103.48 447.50,104.30 447.96,105.13 448.42,105.98 448.88,106.84 449.34,107.71 449.79,108.59 450.25,109.47 450.71,110.37 451.17,111.27 451.62,112.17 452.08,113.07 452.54,113.98 453.00,114.89 453.45,115.79 453.91,116.69 454.37,117.59 454.82,118.48 455.28,119.36 455.74,120.24 456.20,121.11 456.66,121.96 457.11,122.81 457.57,123.64 458.03,124.45 458.49,125.26 458.94,126.04 459.40,126.81 459.86,127.57 460.31,128.30 460.77,129.02 461.23,129.72 461.69,130.40 462.14,131.07 462.60,131.71 463.06,132.33 463.52,132.94 463.98,133.52 464.43,134.09 464.89,134.63 465.35,135.16 465.81,135.67 466.26,136.16 466.72,136.63 467.18,137.08 467.63,137.52 468.09,137.94 468.55,138.34 469.01,138.72 469.47,139.09 469.92,139.45 470.38,139.78 470.84,140.11 471.30,140.42 471.75,140.71 472.21,141.00 472.67,141.26 473.12,141.52 473.58,141.77 474.04,142.00 474.50,142.22 474.96,142.44 475.41,142.64 475.87,142.83 476.33,143.01 476.79,143.19 477.24,143.35 477.70,143.51" fill="none" stroke="#ff8000" stroke-width="1.75" stroke-linejoin="round"/>
<polyline points="404.50,82.10 404.96,82.15 405.42,82.20 405.87,82.25 406.33,82.30 406.79,82.36 407.25,82.42 407.70,82.48 408.16,82.55 408.62,82.62 409.07,82.70 409.53,82.78 409.99,82.86 410.45,82.95 410.91,83.04 411.36,83.14 411.82,83.24 412.28,83.35 412.74,83.46 413.19,83.58 413.65,83.71 414.11,83.84 414.56,83.98 415.02,84.13 415.48,84.28 415.94,84.44 416.40,84.62 416.85,84.79 417.31,84.98 417.77,85.18 418.23,85.39 418.68,85.61 419.14,85.84 419.60,86.07 420.06,86.33 420.51,86.59 420.97,86.86 421.43,87.15 421.88,87.46 422.34,87.77 422.80,88.10 423.26,88.45 423.72,88.81 424.17,89.18 424.63,89.57 425.09,89.98 425.55,90.40 426.00,90.85 426.46,91.31 426.92,91.78 427.38,92.28 427.83,92.79 428.29,93.32 428.75,93.87 429.21,94.45 429.66,95.03 430.12,95.64 430.58,96.27 431.04,96.92 431.49,97.58 431.95,98.26 432.41,98.97 432.87,99.69 433.32,100.42 433.78,101.18 434.24,101.95 434.69,102.73 435.15,103.53 435.61,104.35 436.07,105.18 436.53,106.02 436.98,106.87 437.44,107.73 437.90,108.60 438.36,109.48 438.81,110.36 439.27,111.25 439.73,112.15 440.19,113.04 440.64,113.94 441.10,114.84 441.56,115.74 442.01,116.63 442.47,117.52 442.93,118.40 443.39,119.28 443.85,120.15 444.30,121.01 444.76,121.86 445.22,122.69 445.68,123.52 446.13,124.33 446.59,125.13 447.05,125.91 447.50,126.68 447.96,127.43 448.42,128.16 448.88,128.87 449.34,129.57 449.79,130.25 450.25,130.91 450.71,131.55 451.17,132.18 451.62,132.78 452.08,133.36 452.54,133.93 453.00,134.48 453.45,135.00 453.91,135.51 454.37,136.00 454.82,136.48 455.28,136.93 455.74,137.37 456.20,137.79 456.66,138.19 457.11,138.58 457.57,138.95 458.03,139.31 458.49,139.65 458.94,139.98 459.40,140.29 459.86,140.59 460.31,140.87 460.77,141.15 461.23,141.41 461.69,141.65 462.14,141.89 462.60,142.12 463.06,142.33 463.52,142.54 463.98,142.73 464.43,142.92 464.89,143.10 465.35,143.27 465.81,143.43 466.26,143.58 466.72,143.72 467.18,143.86 467.63,143.99 468.09,144.12 468.55,144.24 469.01,144.35 469.47,144.46 469.92,144.56 470.38,144.65 470.84,144.74 471.30,144.83 471.75,144.91 472.21,144.99 472.67,145.07 473.12,145.14 473.58,145.20 474.04,145.27 474.50,145.33 474.96,145.38 475.41,145.44 475.87,145.49 476.33,145.54 476.79,145.58 477.24,145.62 477.70,145.67" fill="none" stroke="#a0a0a0" stroke-width="1.75" stroke-linejoin="round"/>
<polyline points="404.50,84.45 404.90,84.52 405.30,84.59 405.70,84.66 406.10,84.74 406.50,84.82 406.90,84.90 407.30,84.99 407.70,85.08 408.10,85.18 408.50,85.28 408.90,85.39 409.30,85.50 409.70,85.62 410.10,85.74 410.50,85.87 410.91,86.01 411.31,86.16 411.71,86.31 412.11,86.46 412.51,86.63 412.91,86.80 413.31,86.99 413.71,87.18 414.11,87.38 414.51,87.59 414.91,87.80 415.31,88.03 415.71,88.27 416.11,88.52 416.51,88.78 416.91,89.06 417.31,89.34 417.71,89.64 418.11,89.95 418.51,90.27 418.91,90.61 419.31,90.96 419.71,91.33 420.11,91.71 420.51,92.10 420.91,92.51 421.31,92.93 421.71,93.38 422.11,93.83 422.51,94.31 422.91,94.80 423.31,95.30 423.72,95.82 424.12,96.36 424.52,96.92 424.92,97.49 425.32,98.09 425.72,98.69 426.12,99.32 426.52,99.96 426.92,100.61 427.32,101.28 427.72,101.97 428.12,102.67 428.52,103.39 428.92,104.12 429.32,104.86 429.72,105.62 430.12,106.39 430.52,107.16 430.92,107.95 431.32,108.75 431.72,109.55 432.12,110.37 432.52,111.19 432.92,112.01 433.32,112.84 433.72,113.67 434.12,114.50 434.52,115.33 434.92,116.16 435.32,116.99 435.72,117.82 436.12,118.64 436.53,119.46 436.93,120.27 437.33,121.07 437.73,121.87 438.13,122.65 438.53,123.43 438.93,124.19 439.33,124.94 439.73,125.69 440.13,126.41 440.53,127.12 440.93,127.82 441.33,128.51 441.73,129.17 442.13,129.83 442.53,130.46 442.93,131.08 443.33,131.69 443.73,132.27 444.13,132.84 444.53,133.39 444.93,133.93 445.33,134.45 445.73,134.95 446.13,135.44 446.53,135.91 446.93,136.36 447.33,136.80 447.73,137.22 448.13,137.62 448.53,138.01 448.93,138.39 449.34,138.75 449.74,139.10 450.14,139.43 450.54,139.75 450.94,140.06 451.34,140.35 451.74,140.63 452.14,140.90 452.54,141.16 452.94,141.41 453.34,141.65 453.74,141.87 454.14,142.09 454.54,142.30 454.94,142.49 455.34,142.68 455.74,142.86 456.14,143.04 456.54,143.20 456.94,143.36 457.34,143.50 457.74,143.65 458.14,143.78 458.54,143.91 458.94,144.03 459.34,144.15 459.74,144.26 460.14,144.37 460.54,144.47 460.94,144.57 461.34,144.66 461.74,144.74 462.14,144.83 462.55,144.91 462.95,144.98 463.35,145.05 463.75,145.12 464.15,145.18 464.55,145.25 464.95,145.30 465.35,145.36 465.75,145.41 466.15,145.46 466.55,145.51 466.95,145.55 467.35,145.60 467.75,145.64 468.15,145.68 468.55,145.71" fill="none" stroke="#000000" stroke-width="1.75" stroke-linejoin="round"/>
<rect x="420.20" y="82.00" width="5.20" height="5.20" fill="#a0a0a0"/>
<rect x="401.90" y="78.40" width="5.20" height="5.20" fill="#a0a0a0"/>
<rect x="438.50" y="112.60" width="5.20" height="5.20" fill="#a0a0a0"/>
<rect x="461.38" y="142.40" width="5.20" height="5.20" fill="#a0a0a0"/>
<rect x="402.25" y="84.55" width="4.50" height="4.50" fill="#fff" stroke="#ff8000" stroke-width="1.5"/>
<rect x="420.55" y="87.35" width="4.50" height="4.50" fill="#fff" stroke="#ff8000" stroke-width="1.5"/>
<rect x="438.85" y="91.55" width="4.50" height="4.50" fill="#fff" stroke="#ff8000" stroke-width="1.5"/>
<rect x="457.15" y="124.05" width="4.50" height="4.50" fill="#fff" stroke="#ff8000" stroke-width="1.5"/>
<rect x="475.45" y="142.75" width="4.50" height="4.50" fill="#fff" stroke="#ff8000" stroke-width="1.5"/>
<path d="M402.10,80.40 L404.50,76.00 L406.90,80.40Z" fill="#fff" stroke="#000000" stroke-width="1.6500000000000001" stroke-linejoin="miter"/>
<line x1="422.80" y1="81.30" x2="422.80" y2="87.50" stroke="#000000" stroke-width="1.2"/>
<line x1="420.30" y1="81.30" x2="425.30" y2="81.30" stroke="#000000" stroke-width="1.2"/>
<line x1="420.30" y1="87.50" x2="425.30" y2="87.50" stroke="#000000" stroke-width="1.2"/>
<path d="M420.40,86.80 L422.80,82.40 L425.20,86.80Z" fill="#fff" stroke="#000000" stroke-width="1.6500000000000001" stroke-linejoin="miter"/>
<path d="M438.70,139.60 L441.10,135.20 L443.50,139.60Z" fill="#fff" stroke="#000000" stroke-width="1.6500000000000001" stroke-linejoin="miter"/>
<path d="M457.00,147.50 L459.40,143.10 L461.80,147.50Z" fill="#fff" stroke="#000000" stroke-width="1.6500000000000001" stroke-linejoin="miter"/>
<path d="M466.15,147.50 L468.55,143.10 L470.95,147.50Z" fill="#fff" stroke="#000000" stroke-width="1.6500000000000001" stroke-linejoin="miter"/>
<circle cx="459.40" cy="78.30" r="2.35" fill="#fff" stroke="#ff00ff" stroke-width="1.5"/>
<circle cx="468.55" cy="73.60" r="2.35" fill="#fff" stroke="#ff00ff" stroke-width="1.5"/>
<circle cx="486.85" cy="131.50" r="2.35" fill="#fff" stroke="#ff00ff" stroke-width="1.5"/>
<circle cx="496.00" cy="144.30" r="2.35" fill="#fff" stroke="#ff00ff" stroke-width="1.5"/>
<line x1="496.00" y1="59.30" x2="496.00" y2="66.70" stroke="#0f8a1a" stroke-width="1.2"/>
<line x1="493.50" y1="59.30" x2="498.50" y2="59.30" stroke="#0f8a1a" stroke-width="1.2"/>
<line x1="493.50" y1="66.70" x2="498.50" y2="66.70" stroke="#0f8a1a" stroke-width="1.2"/>
<path d="M496.00,60.40 L498.60,63.00 L496.00,65.60 L493.40,63.00Z" fill="#0f8a1a"/>
<path d="M505.15,79.00 L507.75,81.60 L505.15,84.20 L502.55,81.60Z" fill="#0f8a1a"/>
<path d="M514.30,133.60 L516.90,136.20 L514.30,138.80 L511.70,136.20Z" fill="#0f8a1a"/>
<path d="M523.45,142.70 L526.05,145.30 L523.45,147.90 L520.85,145.30Z" fill="#0f8a1a"/>
<path d="M532.60,143.20 L535.20,145.80 L532.60,148.40 L530.00,145.80Z" fill="#0f8a1a"/>
<path d="M474.20,90.80 L477.70,84.80 L481.20,90.80Z" fill="#ff0000"/>
<path d="M492.50,120.50 L496.00,114.50 L499.50,120.50Z" fill="#ff0000"/>
<path d="M510.80,148.80 L514.30,142.80 L517.80,148.80Z" fill="#ff0000"/>
<path d="M529.10,148.80 L532.60,142.80 L536.10,148.80Z" fill="#ff0000"/>
<path d="M547.40,148.80 L550.90,142.80 L554.40,148.80Z" fill="#ff0000"/>
<path d="M475.30,78.90 L477.70,74.50 L480.10,78.90Z" fill="#fff" stroke="#7f00a8" stroke-width="1.6500000000000001" stroke-linejoin="miter"/>
<path d="M493.60,82.20 L496.00,77.80 L498.40,82.20Z" fill="#fff" stroke="#7f00a8" stroke-width="1.6500000000000001" stroke-linejoin="miter"/>
<path d="M511.90,84.40 L514.30,80.00 L516.70,84.40Z" fill="#fff" stroke="#7f00a8" stroke-width="1.6500000000000001" stroke-linejoin="miter"/>
<line x1="532.60" y1="77.50" x2="532.60" y2="84.50" stroke="#7f00a8" stroke-width="1.2"/>
<line x1="530.10" y1="77.50" x2="535.10" y2="77.50" stroke="#7f00a8" stroke-width="1.2"/>
<line x1="530.10" y1="84.50" x2="535.10" y2="84.50" stroke="#7f00a8" stroke-width="1.2"/>
<path d="M530.20,83.20 L532.60,78.80 L535.00,83.20Z" fill="#fff" stroke="#7f00a8" stroke-width="1.6500000000000001" stroke-linejoin="miter"/>
<path d="M548.50,86.60 L550.90,82.20 L553.30,86.60Z" fill="#fff" stroke="#7f00a8" stroke-width="1.6500000000000001" stroke-linejoin="miter"/>
<circle cx="477.70" cy="83.30" r="2.35" fill="#fff" stroke="#ff00ff" stroke-width="1.5"/>
<path d="M493.30,76.75 L498.70,76.75 L496.00,81.45Z" fill="#0000ff"/>
<path d="M511.60,84.65 L517.00,84.65 L514.30,89.35Z" fill="#0000ff"/>
<path d="M529.90,129.15 L535.30,129.15 L532.60,133.85Z" fill="#0000ff"/>
<path d="M548.20,142.25 L553.60,142.25 L550.90,146.95Z" fill="#0000ff"/>
<line x1="575.80" y1="54.60" x2="586.80" y2="54.60" stroke="#000000" stroke-width="1.4"/>
<path d="M578.66,57.02 L581.30,52.18 L583.94,57.02Z" fill="#fff" stroke="#000000" stroke-width="1.54" stroke-linejoin="miter"/>
<text x="593.00" y="57.60" font-size="8.1" font-weight="bold" fill="#111">wt</text>
<line x1="575.80" y1="68.00" x2="586.80" y2="68.00" stroke="#ff8000" stroke-width="1.4"/>
<rect x="578.82" y="65.53" width="4.95" height="4.95" fill="#fff" stroke="#ff8000" stroke-width="1.4"/>
<text x="593.00" y="71.00" font-size="8.1" font-weight="bold" fill="#111">A92K</text>
<line x1="575.80" y1="81.40" x2="586.80" y2="81.40" stroke="#ff00ff" stroke-width="1.4"/>
<circle cx="581.30" cy="81.40" r="2.59" fill="#fff" stroke="#ff00ff" stroke-width="1.4"/>
<text x="593.00" y="84.40" font-size="8.1" font-weight="bold" fill="#111">R30Q/A92K</text>
<line x1="575.80" y1="94.80" x2="586.80" y2="94.80" stroke="#0f8a1a" stroke-width="1.4"/>
<path d="M581.30,91.94 L584.16,94.80 L581.30,97.66 L578.44,94.80Z" fill="#0f8a1a"/>
<text x="593.00" y="97.80" font-size="8.2" font-weight="bold" fill="#111">Q24K/L28M/R30Q/A92K</text>
<line x1="575.80" y1="108.20" x2="586.80" y2="108.20" stroke="#0000ff" stroke-width="1.4"/>
<path d="M578.33,105.62 L584.27,105.62 L581.30,110.78Z" fill="#0000ff"/>
<text x="593.00" y="111.20" font-size="8.1" font-weight="bold" fill="#111">P32del</text>
<line x1="575.80" y1="121.60" x2="586.80" y2="121.60" stroke="#7f00a8" stroke-width="1.4"/>
<path d="M578.66,124.02 L581.30,119.18 L583.94,124.02Z" fill="#fff" stroke="#7f00a8" stroke-width="1.54" stroke-linejoin="miter"/>
<text x="593.00" y="124.60" font-size="8.1" font-weight="bold" fill="#111">L31F/P32del</text>
<line x1="575.80" y1="135.00" x2="586.80" y2="135.00" stroke="#a0a0a0" stroke-width="1.4"/>
<rect x="578.44" y="132.14" width="5.72" height="5.72" fill="#a0a0a0"/>
<text x="593.00" y="138.00" font-size="8.1" font-weight="bold" fill="#111">Y93H</text>
<line x1="575.80" y1="148.40" x2="586.80" y2="148.40" stroke="#ff0000" stroke-width="1.4"/>
<path d="M577.45,151.70 L581.30,145.10 L585.15,151.70Z" fill="#ff0000"/>
<text x="593.00" y="151.40" font-size="8.1" font-weight="bold" fill="#111">L31V/Y93H</text>
<text x="3" y="201.5" font-size="19.5" fill="#000">c</text>
<text transform="translate(14.80,266.25) rotate(-90)" font-size="11.15" text-anchor="middle" fill="#111">HCV core Ag</text>
<text transform="translate(27.40,266.25) rotate(-90)" font-size="11.15" text-anchor="middle" fill="#111">(% of control)</text>
<line x1="57.05" y1="261.50" x2="201.20" y2="261.50" stroke="#444" stroke-width="1.15" stroke-dasharray="1.1 1.877"/>
<line x1="57.05" y1="294.00" x2="201.20" y2="294.00" stroke="#444" stroke-width="1.15" stroke-dasharray="1.1 1.877"/>
<line x1="54.45" y1="208.80" x2="54.45" y2="327.05" stroke="#1a1a1a" stroke-width="1.15"/>
<line x1="53.90" y1="326.50" x2="201.50" y2="326.50" stroke="#1a1a1a" stroke-width="1.15"/>
<line x1="51.85" y1="326.50" x2="54.45" y2="326.50" stroke="#1a1a1a" stroke-width="1.1"/>
<text x="49.85" y="330.10" font-size="10" text-anchor="end" fill="#222">0</text>
<line x1="51.85" y1="294.00" x2="54.45" y2="294.00" stroke="#1a1a1a" stroke-width="1.1"/>
<text x="49.85" y="297.60" font-size="10" text-anchor="end" fill="#222">50</text>
<line x1="51.85" y1="261.50" x2="54.45" y2="261.50" stroke="#1a1a1a" stroke-width="1.1"/>
<text x="49.85" y="265.10" font-size="10" text-anchor="end" fill="#222">100</text>
<line x1="51.85" y1="229.00" x2="54.45" y2="229.00" stroke="#1a1a1a" stroke-width="1.1"/>
<text x="49.85" y="232.60" font-size="10" text-anchor="end" fill="#222">150</text>
<line x1="72.80" y1="326.50" x2="72.80" y2="329.50" stroke="#1a1a1a" stroke-width="1.1"/>
<text x="65.60" y="340.10" font-size="10" fill="#222">10<tspan font-size="7" dy="-4">0</tspan></text>
<line x1="109.34" y1="326.50" x2="109.34" y2="329.50" stroke="#1a1a1a" stroke-width="1.1"/>
<text x="102.14" y="340.10" font-size="10" fill="#222">10<tspan font-size="7" dy="-4">2</tspan></text>
<line x1="145.88" y1="326.50" x2="145.88" y2="329.50" stroke="#1a1a1a" stroke-width="1.1"/>
<text x="138.68" y="340.10" font-size="10" fill="#222">10<tspan font-size="7" dy="-4">4</tspan></text>
<line x1="182.42" y1="326.50" x2="182.42" y2="329.50" stroke="#1a1a1a" stroke-width="1.1"/>
<text x="175.22" y="340.10" font-size="10" fill="#222">10<tspan font-size="7" dy="-4">6</tspan></text>
<text x="127.55" y="361.4" font-size="11" text-anchor="middle" fill="#111">EBR (pM)</text>
<polyline points="127.61,261.51 128.07,261.51 128.52,261.51 128.98,261.51 129.44,261.51 129.89,261.52 130.35,261.52 130.81,261.52 131.26,261.52 131.72,261.52 132.18,261.52 132.63,261.52 133.09,261.52 133.55,261.52 134.00,261.52 134.46,261.53 134.92,261.53 135.37,261.53 135.83,261.53 136.29,261.53 136.75,261.53 137.20,261.54 137.66,261.54 138.12,261.54 138.57,261.54 139.03,261.54 139.49,261.55 139.94,261.55 140.40,261.55 140.86,261.55 141.31,261.56 141.77,261.56 142.23,261.56 142.68,261.57 143.14,261.57 143.60,261.58 144.05,261.58 144.51,261.58 144.97,261.59 145.42,261.59 145.88,261.60 146.34,261.60 146.79,261.61 147.25,261.62 147.71,261.62 148.16,261.63 148.62,261.63 149.08,261.64 149.53,261.65 149.99,261.66 150.45,261.67 150.90,261.68 151.36,261.69 151.82,261.70 152.27,261.71 152.73,261.72 153.19,261.73 153.64,261.74 154.10,261.75 154.56,261.77 155.01,261.78 155.47,261.80 155.93,261.81 156.39,261.83 156.84,261.85 157.30,261.87 157.76,261.89 158.21,261.91 158.67,261.93 159.13,261.95 159.58,261.98 160.04,262.00 160.50,262.03 160.95,262.06 161.41,262.09 161.87,262.12 162.32,262.16 162.78,262.19 163.24,262.23 163.69,262.27 164.15,262.31 164.61,262.35 165.06,262.40 165.52,262.45 165.98,262.50 166.43,262.55 166.89,262.61 167.35,262.66 167.80,262.73 168.26,262.79 168.72,262.86 169.17,262.93 169.63,263.01 170.09,263.09 170.54,263.17 171.00,263.26 171.46,263.36 171.91,263.45 172.37,263.56 172.83,263.66 173.28,263.78 173.74,263.90 174.20,264.02 174.66,264.15 175.11,264.29 175.57,264.44 176.03,264.59 176.48,264.75 176.94,264.92 177.40,265.09 177.85,265.28 178.31,265.47 178.77,265.67 179.22,265.88 179.68,266.10 180.14,266.34 180.59,266.58 181.05,266.83 181.51,267.10 181.96,267.37 182.42,267.66 182.88,267.97 183.33,268.28 183.79,268.61 184.25,268.95 184.70,269.31 185.16,269.68 185.62,270.07 186.07,270.47 186.53,270.88 186.99,271.32 187.44,271.77 187.90,272.23 188.36,272.72 188.81,273.22 189.27,273.73 189.73,274.27 190.18,274.82 190.64,275.39 191.10,275.98 191.56,276.58 192.01,277.20 192.47,277.84 192.93,278.50 193.38,279.17 193.84,279.86 194.30,280.57 194.75,281.29 195.21,282.03 195.67,282.78 196.12,283.54 196.58,284.32 197.04,285.11 197.49,285.91 197.95,286.72 198.41,287.55 198.86,288.38 199.32,289.22 199.78,290.06 200.23,290.91 200.69,291.77" fill="none" stroke="#7f00a8" stroke-width="1.75" stroke-linejoin="round"/>
<polyline points="127.61,261.53 128.07,261.53 128.52,261.54 128.98,261.54 129.44,261.54 129.89,261.54 130.35,261.54 130.81,261.55 131.26,261.55 131.72,261.55 132.18,261.55 132.63,261.56 133.09,261.56 133.55,261.56 134.00,261.57 134.46,261.57 134.92,261.58 135.37,261.58 135.83,261.59 136.29,261.59 136.75,261.60 137.20,261.60 137.66,261.61 138.12,261.61 138.57,261.62 139.03,261.63 139.49,261.63 139.94,261.64 140.40,261.65 140.86,261.66 141.31,261.66 141.77,261.67 142.23,261.68 142.68,261.69 143.14,261.71 143.60,261.72 144.05,261.73 144.51,261.74 144.97,261.76 145.42,261.77 145.88,261.79 146.34,261.80 146.79,261.82 147.25,261.84 147.71,261.86 148.16,261.88 148.62,261.90 149.08,261.92 149.53,261.94 149.99,261.97 150.45,261.99 150.90,262.02 151.36,262.05 151.82,262.08 152.27,262.11 152.73,262.15 153.19,262.19 153.64,262.22 154.10,262.26 154.56,262.31 155.01,262.35 155.47,262.40 155.93,262.45 156.39,262.50 156.84,262.56 157.30,262.62 157.76,262.68 158.21,262.75 158.67,262.81 159.13,262.89 159.58,262.96 160.04,263.05 160.50,263.13 160.95,263.22 161.41,263.32 161.87,263.41 162.32,263.52 162.78,263.63 163.24,263.75 163.69,263.87 164.15,264.00 164.61,264.13 165.06,264.28 165.52,264.43 165.98,264.59 166.43,264.75 166.89,264.93 167.35,265.11 167.80,265.30 168.26,265.50 168.72,265.72 169.17,265.94 169.63,266.17 170.09,266.42 170.54,266.67 171.00,266.94 171.46,267.22 171.91,267.52 172.37,267.82 172.83,268.14 173.28,268.48 173.74,268.83 174.20,269.20 174.66,269.58 175.11,269.98 175.57,270.39 176.03,270.82 176.48,271.27 176.94,271.74 177.40,272.22 177.85,272.72 178.31,273.25 178.77,273.78 179.22,274.34 179.68,274.92 180.14,275.52 180.59,276.13 181.05,276.77 181.51,277.42 181.96,278.09 182.42,278.78 182.88,279.49 183.33,280.21 183.79,280.96 184.25,281.71 184.70,282.49 185.16,283.28 185.62,284.08 186.07,284.90 186.53,285.73 186.99,286.58 187.44,287.43 187.90,288.29 188.36,289.17 188.81,290.05 189.27,290.93 189.73,291.82 190.18,292.71 190.64,293.61 191.10,294.50 191.56,295.40 192.01,296.29 192.47,297.18 192.93,298.06 193.38,298.94 193.84,299.81 194.30,300.67 194.75,301.52 195.21,302.37 195.67,303.20 196.12,304.01 196.58,304.82 197.04,305.60 197.49,306.38 197.95,307.13 198.41,307.88 198.86,308.60 199.32,309.30 199.78,309.99 200.23,310.66 200.69,311.31" fill="none" stroke="#0000ff" stroke-width="1.75" stroke-linejoin="round"/>
<polyline points="109.34,261.59 109.80,261.59 110.25,261.60 110.71,261.61 111.17,261.61 111.62,261.62 112.08,261.63 112.54,261.63 112.99,261.64 113.45,261.65 113.91,261.66 114.36,261.67 114.82,261.68 115.28,261.69 115.73,261.70 116.19,261.71 116.65,261.73 117.10,261.74 117.56,261.75 118.02,261.77 118.47,261.78 118.93,261.80 119.39,261.82 119.85,261.84 120.30,261.86 120.76,261.88 121.22,261.90 121.67,261.93 122.13,261.95 122.59,261.98 123.04,262.01 123.50,262.04 123.96,262.07 124.41,262.10 124.87,262.14 125.33,262.17 125.78,262.21 126.24,262.26 126.70,262.30 127.15,262.35 127.61,262.40 128.07,262.45 128.52,262.51 128.98,262.57 129.44,262.63 129.89,262.69 130.35,262.76 130.81,262.84 131.26,262.92 131.72,263.00 132.18,263.09 132.63,263.18 133.09,263.28 133.55,263.38 134.00,263.49 134.46,263.60 134.92,263.72 135.37,263.85 135.83,263.99 136.29,264.13 136.75,264.28 137.20,264.44 137.66,264.61 138.12,264.78 138.57,264.97 139.03,265.16 139.49,265.37 139.94,265.59 140.40,265.81 140.86,266.05 141.31,266.31 141.77,266.57 142.23,266.85 142.68,267.14 143.14,267.45 143.60,267.77 144.05,268.10 144.51,268.46 144.97,268.83 145.42,269.21 145.88,269.61 146.34,270.04 146.79,270.48 147.25,270.93 147.71,271.41 148.16,271.91 148.62,272.43 149.08,272.96 149.53,273.52 149.99,274.10 150.45,274.70 150.90,275.32 151.36,275.96 151.82,276.63 152.27,277.31 152.73,278.02 153.19,278.74 153.64,279.49 154.10,280.25 154.56,281.03 155.01,281.84 155.47,282.65 155.93,283.49 156.39,284.34 156.84,285.21 157.30,286.09 157.76,286.98 158.21,287.89 158.67,288.80 159.13,289.73 159.58,290.66 160.04,291.59 160.50,292.53 160.95,293.47 161.41,294.41 161.87,295.36 162.32,296.30 162.78,297.23 163.24,298.16 163.69,299.09 164.15,300.00 164.61,300.91 165.06,301.80 165.52,302.68 165.98,303.55 166.43,304.41 166.89,305.25 167.35,306.07 167.80,306.87 168.26,307.66 168.72,308.42 169.17,309.17 169.63,309.90 170.09,310.61 170.54,311.29 171.00,311.96 171.46,312.60 171.91,313.23 172.37,313.83 172.83,314.41 173.28,314.97 173.74,315.51 174.20,316.03 174.66,316.53 175.11,317.01 175.57,317.47 176.03,317.91 176.48,318.34 176.94,318.74 177.40,319.13 177.85,319.50 178.31,319.85 178.77,320.19 179.22,320.51 179.68,320.82 180.14,321.12 180.59,321.40 181.05,321.66 181.51,321.92 181.96,322.16 182.42,322.39" fill="none" stroke="#0f8a1a" stroke-width="1.75" stroke-linejoin="round"/>
<polyline points="127.61,263.02 128.07,263.11 128.52,263.21 128.98,263.31 129.44,263.42 129.89,263.53 130.35,263.66 130.81,263.78 131.26,263.92 131.72,264.06 132.18,264.22 132.63,264.38 133.09,264.55 133.55,264.73 134.00,264.92 134.46,265.12 134.92,265.33 135.37,265.55 135.83,265.78 136.29,266.03 136.75,266.29 137.20,266.56 137.66,266.85 138.12,267.15 138.57,267.47 139.03,267.81 139.49,268.16 139.94,268.52 140.40,268.91 140.86,269.31 141.31,269.74 141.77,270.18 142.23,270.64 142.68,271.12 143.14,271.63 143.60,272.15 144.05,272.70 144.51,273.26 144.97,273.85 145.42,274.47 145.88,275.10 146.34,275.76 146.79,276.44 147.25,277.14 147.71,277.87 148.16,278.61 148.62,279.38 149.08,280.17 149.53,280.98 149.99,281.81 150.45,282.66 150.90,283.53 151.36,284.41 151.82,285.31 152.27,286.22 152.73,287.15 153.19,288.09 153.64,289.04 154.10,290.00 154.56,290.96 155.01,291.93 155.47,292.91 155.93,293.88 156.39,294.86 156.84,295.83 157.30,296.81 157.76,297.77 158.21,298.73 158.67,299.68 159.13,300.62 159.58,301.55 160.04,302.47 160.50,303.37 160.95,304.26 161.41,305.13 161.87,305.99 162.32,306.82 162.78,307.63 163.24,308.43 163.69,309.20 164.15,309.95 164.61,310.69 165.06,311.39 165.52,312.08 165.98,312.74 166.43,313.38 166.89,314.00 167.35,314.60 167.80,315.17 168.26,315.72 168.72,316.25 169.17,316.76 169.63,317.25 170.09,317.71 170.54,318.16 171.00,318.59 171.46,318.99 171.91,319.38 172.37,319.76 172.83,320.11 173.28,320.45 173.74,320.77 174.20,321.08 174.66,321.37 175.11,321.65 175.57,321.91 176.03,322.16 176.48,322.40 176.94,322.62 177.40,322.83 177.85,323.04 178.31,323.23 178.77,323.41 179.22,323.58 179.68,323.75 180.14,323.90 180.59,324.05 181.05,324.18 181.51,324.31 181.96,324.44 182.42,324.55 182.88,324.66 183.33,324.77 183.79,324.87 184.25,324.96 184.70,325.05 185.16,325.13 185.62,325.21 186.07,325.28 186.53,325.35 186.99,325.42 187.44,325.48 187.90,325.54 188.36,325.59 188.81,325.65 189.27,325.70 189.73,325.74 190.18,325.79 190.64,325.83 191.10,325.87 191.56,325.90 192.01,325.94 192.47,325.97 192.93,326.00 193.38,326.03 193.84,326.06 194.30,326.08 194.75,326.11 195.21,326.13 195.67,326.15 196.12,326.17 196.58,326.19 197.04,326.21 197.49,326.23 197.95,326.24 198.41,326.26 198.86,326.27 199.32,326.28 199.78,326.30 200.23,326.31 200.69,326.32" fill="none" stroke="#ff00ff" stroke-width="1.75" stroke-linejoin="round"/>
<polyline points="109.34,262.41 109.80,262.47 110.25,262.52 110.71,262.59 111.17,262.65 111.62,262.72 112.08,262.79 112.54,262.87 112.99,262.95 113.45,263.04 113.91,263.13 114.36,263.22 114.82,263.33 115.28,263.43 115.73,263.55 116.19,263.67 116.65,263.80 117.10,263.93 117.56,264.07 118.02,264.22 118.47,264.38 118.93,264.55 119.39,264.72 119.85,264.91 120.30,265.11 120.76,265.31 121.22,265.53 121.67,265.76 122.13,266.00 122.59,266.25 123.04,266.52 123.50,266.80 123.96,267.10 124.41,267.40 124.87,267.73 125.33,268.07 125.78,268.43 126.24,268.80 126.70,269.19 127.15,269.60 127.61,270.03 128.07,270.48 128.52,270.95 128.98,271.43 129.44,271.94 129.89,272.47 130.35,273.02 130.81,273.59 131.26,274.18 131.72,274.79 132.18,275.43 132.63,276.09 133.09,276.76 133.55,277.46 134.00,278.19 134.46,278.93 134.92,279.69 135.37,280.48 135.83,281.28 136.29,282.10 136.75,282.94 137.20,283.80 137.66,284.67 138.12,285.56 138.57,286.46 139.03,287.38 139.49,288.30 139.94,289.24 140.40,290.18 140.86,291.13 141.31,292.08 141.77,293.04 142.23,294.00 142.68,294.96 143.14,295.92 143.60,296.87 144.05,297.82 144.51,298.76 144.97,299.70 145.42,300.62 145.88,301.54 146.34,302.44 146.79,303.33 147.25,304.20 147.71,305.06 148.16,305.90 148.62,306.72 149.08,307.52 149.53,308.31 149.99,309.07 150.45,309.81 150.90,310.54 151.36,311.24 151.82,311.91 152.27,312.57 152.73,313.21 153.19,313.82 153.64,314.41 154.10,314.98 154.56,315.53 155.01,316.06 155.47,316.57 155.93,317.05 156.39,317.52 156.84,317.97 157.30,318.40 157.76,318.81 158.21,319.20 158.67,319.57 159.13,319.93 159.58,320.27 160.04,320.60 160.50,320.90 160.95,321.20 161.41,321.48 161.87,321.75 162.32,322.00 162.78,322.24 163.24,322.47 163.69,322.69 164.15,322.89 164.61,323.09 165.06,323.28 165.52,323.45 165.98,323.62 166.43,323.78 166.89,323.93 167.35,324.07 167.80,324.20 168.26,324.33 168.72,324.45 169.17,324.57 169.63,324.67 170.09,324.78 170.54,324.87 171.00,324.96 171.46,325.05 171.91,325.13 172.37,325.21 172.83,325.28 173.28,325.35 173.74,325.41 174.20,325.48 174.66,325.53 175.11,325.59 175.57,325.64 176.03,325.69 176.48,325.73 176.94,325.78 177.40,325.82 177.85,325.86 178.31,325.89 178.77,325.93 179.22,325.96 179.68,325.99 180.14,326.02 180.59,326.05 181.05,326.07 181.51,326.10 181.96,326.12 182.42,326.14" fill="none" stroke="#ff8000" stroke-width="1.75" stroke-linejoin="round"/>
<polyline points="54.53,261.83 54.99,261.85 55.44,261.87 55.90,261.90 56.36,261.92 56.81,261.94 57.27,261.97 57.73,262.00 58.18,262.03 58.64,262.06 59.10,262.09 59.55,262.13 60.01,262.16 60.47,262.20 60.92,262.25 61.38,262.29 61.84,262.34 62.29,262.39 62.75,262.44 63.21,262.49 63.66,262.55 64.12,262.61 64.58,262.68 65.04,262.75 65.49,262.82 65.95,262.90 66.41,262.98 66.86,263.07 67.32,263.16 67.78,263.25 68.23,263.35 68.69,263.46 69.15,263.58 69.60,263.69 70.06,263.82 70.52,263.95 70.97,264.10 71.43,264.24 71.89,264.40 72.34,264.57 72.80,264.74 73.26,264.92 73.71,265.12 74.17,265.32 74.63,265.53 75.08,265.76 75.54,266.00 76.00,266.24 76.45,266.51 76.91,266.78 77.37,267.07 77.82,267.37 78.28,267.69 78.74,268.02 79.19,268.37 79.65,268.74 80.11,269.12 80.56,269.52 81.02,269.93 81.48,270.37 81.94,270.82 82.39,271.30 82.85,271.79 83.31,272.30 83.76,272.83 84.22,273.39 84.68,273.96 85.13,274.56 85.59,275.17 86.05,275.81 86.50,276.47 86.96,277.14 87.42,277.84 87.87,278.56 88.33,279.30 88.79,280.06 89.24,280.84 89.70,281.64 90.16,282.46 90.61,283.29 91.07,284.14 91.53,285.00 91.98,285.88 92.44,286.77 92.90,287.67 93.35,288.58 93.81,289.50 94.27,290.43 94.72,291.37 95.18,292.30 95.64,293.25 96.09,294.19 96.55,295.13 97.01,296.07 97.46,297.01 97.92,297.94 98.38,298.87 98.83,299.78 99.29,300.69 99.75,301.59 100.20,302.47 100.66,303.35 101.12,304.20 101.58,305.05 102.03,305.87 102.49,306.68 102.95,307.47 103.40,308.24 103.86,308.99 104.32,309.73 104.77,310.44 105.23,311.13 105.69,311.80 106.14,312.45 106.60,313.08 107.06,313.69 107.51,314.27 107.97,314.84 108.43,315.38 108.88,315.91 109.34,316.41 109.80,316.90 110.25,317.36 110.71,317.81 111.17,318.24 111.62,318.65 112.08,319.04 112.54,319.41 112.99,319.77 113.45,320.11 113.91,320.44 114.36,320.75 114.82,321.05 115.28,321.33 115.73,321.60 116.19,321.86 116.65,322.10 117.10,322.33 117.56,322.55 118.02,322.76 118.47,322.96 118.93,323.15 119.39,323.33 119.85,323.50 120.30,323.66 120.76,323.82 121.22,323.96 121.67,324.10 122.13,324.23 122.59,324.35 123.04,324.47 123.50,324.58 123.96,324.69 124.41,324.79 124.87,324.88 125.33,324.97 125.78,325.05 126.24,325.13 126.70,325.21 127.15,325.28 127.61,325.35" fill="none" stroke="#a0a0a0" stroke-width="1.75" stroke-linejoin="round"/>
<polyline points="54.53,265.70 54.99,266.03 55.44,266.37 55.90,266.73 56.36,267.10 56.81,267.49 57.27,267.89 57.73,268.31 58.18,268.75 58.64,269.21 59.10,269.69 59.55,270.18 60.01,270.70 60.47,271.23 60.92,271.78 61.38,272.36 61.84,272.95 62.29,273.56 62.75,274.19 63.21,274.85 63.66,275.52 64.12,276.21 64.58,276.92 65.04,277.65 65.49,278.40 65.95,279.17 66.41,279.95 66.86,280.75 67.32,281.57 67.78,282.40 68.23,283.25 68.69,284.11 69.15,284.99 69.60,285.87 70.06,286.77 70.52,287.67 70.97,288.59 71.43,289.51 71.89,290.43 72.34,291.36 72.80,292.29 73.26,293.23 73.71,294.16 74.17,295.09 74.63,296.01 75.08,296.94 75.54,297.85 76.00,298.76 76.45,299.66 76.91,300.55 77.37,301.43 77.82,302.30 78.28,303.15 78.74,303.99 79.19,304.81 79.65,305.62 80.11,306.41 80.56,307.18 81.02,307.94 81.48,308.67 81.94,309.39 82.39,310.09 82.85,310.77 83.31,311.43 83.76,312.07 84.22,312.69 84.68,313.29 85.13,313.87 85.59,314.43 86.05,314.97 86.50,315.49 86.96,315.99 87.42,316.47 87.87,316.94 88.33,317.38 88.79,317.81 89.24,318.22 89.70,318.62 90.16,319.00 90.61,319.36 91.07,319.71 91.53,320.04 91.98,320.36 92.44,320.66 92.90,320.95 93.35,321.22 93.81,321.49 94.27,321.74 94.72,321.98 95.18,322.21 95.64,322.43 96.09,322.63 96.55,322.83 97.01,323.02 97.46,323.20 97.92,323.37 98.38,323.53 98.83,323.68 99.29,323.83 99.75,323.97 100.20,324.10 100.66,324.23 101.12,324.34 101.58,324.46 102.03,324.56 102.49,324.67 102.95,324.76 103.40,324.85 103.86,324.94 104.32,325.02 104.77,325.10 105.23,325.18 105.69,325.25 106.14,325.31 106.60,325.38 107.06,325.44 107.51,325.49 107.97,325.55 108.43,325.60 108.88,325.64 109.34,325.69 109.80,325.73 110.25,325.77 110.71,325.81 111.17,325.85 111.62,325.89 112.08,325.92 112.54,325.95 112.99,325.98 113.45,326.01 113.91,326.03 114.36,326.06 114.82,326.08 115.28,326.10 115.73,326.13 116.19,326.15 116.65,326.16 117.10,326.18 117.56,326.20 118.02,326.22 118.47,326.23 118.93,326.25 119.39,326.26 119.85,326.27 120.30,326.28 120.76,326.30 121.22,326.31 121.67,326.32 122.13,326.33 122.59,326.34 123.04,326.35 123.50,326.35 123.96,326.36 124.41,326.37 124.87,326.38 125.33,326.38 125.78,326.39 126.24,326.40 126.70,326.40 127.15,326.41 127.61,326.41" fill="none" stroke="#000000" stroke-width="1.75" stroke-linejoin="round"/>
<rect x="51.93" y="263.90" width="5.20" height="5.20" fill="#a0a0a0"/>
<rect x="70.20" y="265.60" width="5.20" height="5.20" fill="#a0a0a0"/>
<rect x="88.47" y="276.05" width="5.20" height="5.20" fill="#a0a0a0"/>
<path d="M52.13,267.60 L54.53,263.20 L56.93,267.60Z" fill="#fff" stroke="#000000" stroke-width="1.6500000000000001" stroke-linejoin="miter"/>
<path d="M70.40,293.10 L72.80,288.70 L75.20,293.10Z" fill="#fff" stroke="#000000" stroke-width="1.6500000000000001" stroke-linejoin="miter"/>
<path d="M88.67,327.80 L91.07,323.40 L93.47,327.80Z" fill="#fff" stroke="#000000" stroke-width="1.6500000000000001" stroke-linejoin="miter"/>
<path d="M106.94,327.80 L109.34,323.40 L111.74,327.80Z" fill="#fff" stroke="#000000" stroke-width="1.6500000000000001" stroke-linejoin="miter"/>
<path d="M125.21,327.80 L127.61,323.40 L130.01,327.80Z" fill="#fff" stroke="#000000" stroke-width="1.6500000000000001" stroke-linejoin="miter"/>
<path d="M105.84,269.60 L109.34,263.60 L112.84,269.60Z" fill="#ff0000"/>
<path d="M142.38,265.00 L145.88,259.00 L149.38,265.00Z" fill="#ff0000"/>
<path d="M160.65,329.00 L164.15,323.00 L167.65,329.00Z" fill="#ff0000"/>
<path d="M109.34,260.90 L111.94,263.50 L109.34,266.10 L106.74,263.50Z" fill="#0f8a1a"/>
<path d="M127.61,253.60 L130.21,256.20 L127.61,258.80 L125.01,256.20Z" fill="#0f8a1a"/>
<path d="M145.88,213.00 L148.48,215.60 L145.88,218.20 L143.28,215.60Z" fill="#0f8a1a"/>
<rect x="107.09" y="257.95" width="4.50" height="4.50" fill="#fff" stroke="#ff8000" stroke-width="1.5"/>
<rect x="125.36" y="241.95" width="4.50" height="4.50" fill="#fff" stroke="#ff8000" stroke-width="1.5"/>
<rect x="143.63" y="313.65" width="4.50" height="4.50" fill="#fff" stroke="#ff8000" stroke-width="1.5"/>
<rect x="161.90" y="322.35" width="4.50" height="4.50" fill="#fff" stroke="#ff8000" stroke-width="1.5"/>
<rect x="180.17" y="322.75" width="4.50" height="4.50" fill="#fff" stroke="#ff8000" stroke-width="1.5"/>
<line x1="127.61" y1="258.70" x2="127.61" y2="263.50" stroke="#7f00a8" stroke-width="1.2"/>
<line x1="125.11" y1="258.70" x2="130.11" y2="258.70" stroke="#7f00a8" stroke-width="1.2"/>
<line x1="125.11" y1="263.50" x2="130.11" y2="263.50" stroke="#7f00a8" stroke-width="1.2"/>
<path d="M125.21,263.40 L127.61,259.00 L130.01,263.40Z" fill="#fff" stroke="#7f00a8" stroke-width="1.6500000000000001" stroke-linejoin="miter"/>
<path d="M124.91,261.35 L130.31,261.35 L127.61,266.05Z" fill="#0000ff"/>
<circle cx="127.61" cy="267.90" r="2.35" fill="#fff" stroke="#ff00ff" stroke-width="1.5"/>
<path d="M143.48,265.20 L145.88,260.80 L148.28,265.20Z" fill="#fff" stroke="#7f00a8" stroke-width="1.6500000000000001" stroke-linejoin="miter"/>
<path d="M143.18,261.25 L148.58,261.25 L145.88,265.95Z" fill="#0000ff"/>
<circle cx="145.88" cy="257.40" r="2.35" fill="#fff" stroke="#ff00ff" stroke-width="1.5"/>
<path d="M161.75,265.10 L164.15,260.70 L166.55,265.10Z" fill="#fff" stroke="#7f00a8" stroke-width="1.6500000000000001" stroke-linejoin="miter"/>
<path d="M161.45,255.15 L166.85,255.15 L164.15,259.85Z" fill="#0000ff"/>
<path d="M180.02,280.70 L182.42,276.30 L184.82,280.70Z" fill="#fff" stroke="#7f00a8" stroke-width="1.6500000000000001" stroke-linejoin="miter"/>
<path d="M179.72,270.85 L185.12,270.85 L182.42,275.55Z" fill="#0000ff"/>
<path d="M198.29,291.80 L200.69,287.40 L203.09,291.80Z" fill="#fff" stroke="#7f00a8" stroke-width="1.6500000000000001" stroke-linejoin="miter"/>
<path d="M197.99,316.85 L203.39,316.85 L200.69,321.55Z" fill="#0000ff"/>
<circle cx="200.69" cy="326.00" r="2.35" fill="#fff" stroke="#ff00ff" stroke-width="1.5"/>
<line x1="225.80" y1="234.60" x2="236.80" y2="234.60" stroke="#000000" stroke-width="1.4"/>
<path d="M228.66,237.02 L231.30,232.18 L233.94,237.02Z" fill="#fff" stroke="#000000" stroke-width="1.54" stroke-linejoin="miter"/>
<text x="243.00" y="237.60" font-size="8.1" font-weight="bold" fill="#111">wt</text>
<line x1="225.80" y1="248.40" x2="236.80" y2="248.40" stroke="#ff8000" stroke-width="1.4"/>
<rect x="228.83" y="245.93" width="4.95" height="4.95" fill="#fff" stroke="#ff8000" stroke-width="1.4"/>
<text x="243.00" y="251.40" font-size="8.1" font-weight="bold" fill="#111">A92K</text>
<line x1="225.80" y1="262.20" x2="236.80" y2="262.20" stroke="#ff00ff" stroke-width="1.4"/>
<circle cx="231.30" cy="262.20" r="2.59" fill="#fff" stroke="#ff00ff" stroke-width="1.4"/>
<text x="243.00" y="265.20" font-size="8.1" font-weight="bold" fill="#111">R30Q/A92K</text>
<line x1="225.80" y1="276.00" x2="236.80" y2="276.00" stroke="#0f8a1a" stroke-width="1.4"/>
<path d="M231.30,273.14 L234.16,276.00 L231.30,278.86 L228.44,276.00Z" fill="#0f8a1a"/>
<text x="243.00" y="279.00" font-size="8.2" font-weight="bold" fill="#111">Q24K/L28M/R30Q/A92K</text>
<line x1="225.80" y1="289.80" x2="236.80" y2="289.80" stroke="#0000ff" stroke-width="1.4"/>
<path d="M228.33,287.22 L234.27,287.22 L231.30,292.38Z" fill="#0000ff"/>
<text x="243.00" y="292.80" font-size="8.1" font-weight="bold" fill="#111">P32del</text>
<line x1="225.80" y1="303.60" x2="236.80" y2="303.60" stroke="#7f00a8" stroke-width="1.4"/>
<path d="M228.66,306.02 L231.30,301.18 L233.94,306.02Z" fill="#fff" stroke="#7f00a8" stroke-width="1.54" stroke-linejoin="miter"/>
<text x="243.00" y="306.60" font-size="8.1" font-weight="bold" fill="#111">L31F/P32del</text>
<line x1="225.80" y1="317.40" x2="236.80" y2="317.40" stroke="#a0a0a0" stroke-width="1.4"/>
<rect x="228.44" y="314.54" width="5.72" height="5.72" fill="#a0a0a0"/>
<text x="243.00" y="320.40" font-size="8.1" font-weight="bold" fill="#111">Y93H</text>
<line x1="225.80" y1="331.20" x2="236.80" y2="331.20" stroke="#ff0000" stroke-width="1.4"/>
<path d="M227.45,334.50 L231.30,327.90 L235.15,334.50Z" fill="#ff0000"/>
<text x="243.00" y="334.20" font-size="8.1" font-weight="bold" fill="#111">L31V/Y93H</text></svg></body></html>
